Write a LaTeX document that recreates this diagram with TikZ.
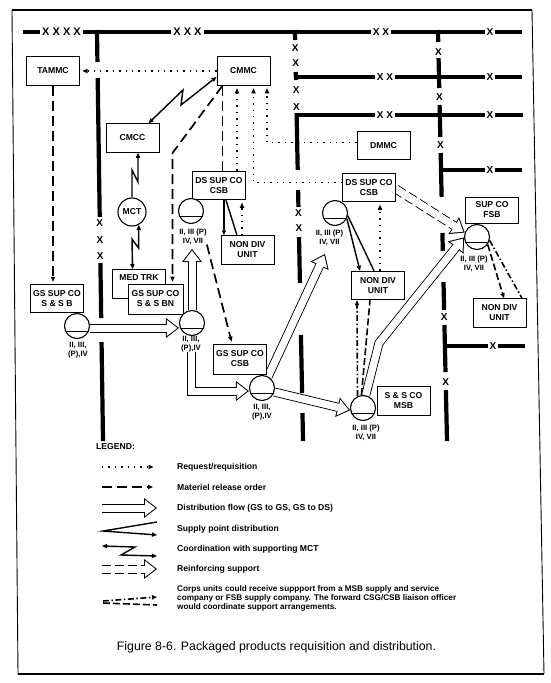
\documentclass[tikz,border=0pt]{standalone}
\usepackage{fontspec}
\setmainfont{Liberation Sans}
\usetikzlibrary{arrows.meta,backgrounds}

\begin{document}
\begin{tikzpicture}
  [x=1pt, y=-1pt,
   font=\fontsize{8.6}{10}\selectfont\bfseries,
   >={Triangle[length=5pt,width=4.5pt,line width=0pt]},
   box/.style={draw, line width=1pt, fill=white, minimum width=53pt,
     minimum height=28.5pt, inner sep=1pt, align=center},
   depot/.style={circle, draw, line width=1.1pt, fill=white, minimum size=25pt,
     inner sep=0pt, path picture={\draw[line width=.9pt]
       ([yshift=-5pt]path picture bounding box.west) --
       ([yshift=-5pt]path picture bounding box.east);}},
   classes/.style={font=\fontsize{7.7}{9}\selectfont\bfseries, align=center, inner sep=0pt},
   legtext/.style={anchor=west, inner sep=0pt},
   bline/.style={line width=4.2pt},
   xmark/.style={font=\fontsize{10}{11}\selectfont\bfseries, fill=white, inner sep=2pt},
   xbig/.style={xmark, font=\fontsize{11}{12}\selectfont\bfseries},
   req/.style={line width=1.4pt, dash pattern=on 1.4pt off 5pt, shorten >=2.5pt},
   mro/.style={line width=1.7pt, dash pattern=on 10pt off 5pt, shorten >=2pt},
   zig/.style={line width=1.4pt},
   corps/.style={line width=1.6pt, dash pattern=on 6pt off 2.5pt on 1.5pt off 2.5pt},
   corpsb/.style={line width=1.6pt, dash pattern=on 7pt off 3pt},
   flow/.style={line width=9pt, -{Triangle[length=13pt,width=20pt,line width=0pt]},
     postaction={draw=white, line width=7pt,
       -{Triangle[length=10.36pt,width=15.94pt,line width=0pt]}, shorten >=1.64pt},
     postaction={draw=white, line width=7pt, -, shorten >=8pt}},
   reinf/.style={flow, dash pattern=on 9pt off 4pt}]
  \useasboundingbox (0,0) rectangle (550,683);
  \draw[line width=1.8pt] (12,10) -- (532,10) (18,674) -- (544,674);
  \draw[line width=.9pt] (12,10) -- (18,674) (532,10) -- (544,674);

  \draw[bline] (23,32) -- (522,32);
  \draw[bline] (294,77) -- (522,77);
  \draw[bline] (294.5,115) -- (523,115);
  \draw[bline] (440,170) -- (522,170);
  \draw[bline] (444,346) -- (525,346);
  \foreach \a/\b in {30/62, 78/217, 263/318, 342/441}
    \draw[bline] ({97+.0147*(\a-32)},\a) -- ({97+.0147*(\b-32)},\b);
  \foreach \a/\b in {30/40, 72/80, 113/170, 190/207, 237/283, 335/393, 413/441}
    \draw[bline] ({295+.0196*(\a-32)},\a) -- ({295+.0196*(\b-32)},\b);
  \foreach \a/\b in {30/42, 58/88, 105/137, 153/197, 233/251, 282/310, 325/372, 390/441}
    \draw[bline] ({438+.022*(\a-32)},\a) -- ({438+.022*(\b-32)},\b);

  \node[xbig] (x4) at (61.5,32) {X X X X};
  \node[xbig] (x3) at (187.5,32) {X X X};
  \node[xmark] (x2a) at (381,32) {X X};
  \node[xmark] (x1a) at (490,32) {X};
  \node[xmark] (x2b) at (385,77) {X X};
  \node[xmark] (x1b) at (490,77) {X};
  \node[xmark] (x2c) at (385,115) {X X};
  \node[xmark] (x1c) at (490,115) {X};
  \node[xmark] (x1d) at (490,170) {X};
  \node[xmark] (x1e) at (493,346) {X};
  \foreach \y [count=\i] in {223,240,256}
    \node[xmark] (xc\i) at ({97+.0147*(\y-32)},\y) {X};
  \foreach \y [count=\i] in {48,63,90,107,213,228}
    \node[xmark] (xd\i) at ({295+.0196*(\y-32)},\y) {X};
  \foreach \y [count=\i] in {52,97,145,317,382}
    \node[xmark] (xb\i) at ({438+.022*(\y-32)},\y) {X};

  \node[box] (tammc) at (53,71) {TAMMC};
  \node[box] (cmmc) at (243.5,71) {CMMC};
  \node[box] (cmcc) at (132.5,138) {CMCC};
  \node[box] (dmmc) at (383.5,145.5) {DMMC};
  \node[box] (dscsbL) at (219,185.5) {DS SUP CO\\CSB};
  \node[box] (dscsbR) at (369,187.5) {DS SUP CO\\CSB};
  \node[box] (nondivL) at (247.5,250) {NON DIV\\UNIT};
  \node[box] (nondivM) at (378,285.5) {NON DIV\\UNIT};
  \node[box] (nondivR) at (499.5,313) {NON DIV\\UNIT};
  \node[box, minimum height=26pt] (supfsb) at (492,210) {SUP CO\\FSB};
  \node[box, anchor=north west, text height=7pt, text depth=13pt, inner ysep=4pt]
    (medtrk) at (112,269) {MED TRK};
  \node[box, minimum width=55pt, minimum height=30pt] (gsbn) at (155.5,299) {GS SUP CO\\S \& S BN};
  \node[box] (gssb) at (57,298.5) {GS SUP CO\\S \& S B};
  \node[box, minimum height=30pt] (gscsb) at (240,359) {GS SUP CO\\CSB};
  \node[box] (ssmsb) at (403.5,401) {S \& S CO\\MSB};

  \node[depot] (cSB) at (77,326) {};
  \node[depot] (cBN) at (192,323) {};
  \node[depot] (cDSL) at (191,211) {};
  \node[depot] (cCSB) at (262,388) {};
  \node[depot] (cDSR) at (335,213) {};
  \node[depot] (cMSB) at (363,408) {};
  \node[depot] (cFSB) at (477,237) {};
  \node[circle, draw, line width=1.1pt, fill=white, minimum size=28pt, inner sep=0pt]
    (mct) at (132,212) {MCT};

  \node[classes] (lSB) at (78,350) {II, III,\\(P),IV};
  \node[classes] (lBN) at (191,344) {II, III,\\(P),IV};
  \node[classes] (lDSL) at (193,236.5) {II, III (P)\\IV, VII};
  \node[classes] (lCSB) at (262,412) {II, III,\\(P),IV};
  \node[classes] (lDSR) at (329.5,237.5) {II, III (P)\\IV, VII};
  \node[classes] (lMSB) at (366,433) {II, III (P)\\IV, VII};
  \node[classes] (lFSB) at (474,263.5) {II, III (P)\\IV, VII};

  \coordinate (bendCM) at (172.5,153);
  \coordinate (zigA) at (183,90);
  \coordinate (zigB) at (181,105);
  \coordinate (zigC) at (132,170);
  \coordinate (zigD) at (138,182);
  \coordinate (zigE) at (138.6,248);
  \coordinate (zigF) at (132,239);
  \coordinate (tipDSL) at (192,249);
  \coordinate (tipDSR) at (325,254);
  \coordinate (bendMSB) at (379,343);

  \draw[req,->] (cmmc.west) -- (tammc.east);
  \draw[req,->] ([xshift=18pt]dscsbL.north) -- ([xshift=18pt]dscsbL.north |- cmmc.south);
  \draw[req,->] ([yshift=5pt]dscsbR.west) -| ([xshift=10pt]cmmc.south);
  \draw[req,->] ([yshift=3pt]dmmc.west) -| ([xshift=23.5pt]cmmc.south);
  \draw[req,->] ([xshift=2pt]nondivM.north) -- ([xshift=2pt]nondivM.north |- dscsbR.south);
  \draw[req,->] ([xshift=-5.5pt]nondivL.north) -- ([xshift=-5.5pt]nondivL.north |- dscsbL.south);

  \draw[mro,->] (tammc.south) -- (tammc.south |- gssb.north);
  \draw[mro,->] ([xshift=-21pt]cmmc.south) -- (bendCM) -- ([xshift=17pt]gsbn.north);
  \draw[mro, shorten >=0pt] ([xshift=-21pt]cmmc.south) -- ([xshift=-21pt]cmmc.south |- dscsbL.north);
  \draw[mro,->] (lDSL.south east) -- ([xshift=-8pt]gscsb.north);

  \draw[zig,<->] ([xshift=-11pt]cmcc.north east) -- (zigA) -- (zigB) -- ([yshift=-6pt]cmmc.west);
  \draw[zig,->] (mct.north) -- (zigC) -- (zigD) -- ([xshift=5.5pt]cmcc.south);
  \draw[zig,<->] (mct.-62) -- (zigE) -- (zigF) -- ([xshift=-6.5pt]medtrk.north);

  \draw[zig,->] ([xshift=5pt]dscsbL.south) -- ([xshift=5pt]dscsbL.south |- nondivL.north);
  \draw[zig] ([xshift=7pt]dscsbL.south) -- ([xshift=-10.5pt]nondivL.north);
  \draw[zig,->] (cDSR.-25) -- ([xshift=-18pt]nondivM.north);
  \draw[zig] (cDSR.-12) -- ([xshift=-4pt]nondivM.north);

  \draw[corps,->] (cMSB.115) -- ([xshift=-21pt]nondivM.south);
  \draw[corpsb] (cMSB.97) -- ([xshift=-8pt]nondivM.south);
  \draw[corpsb,->] (cFSB.-35) -- ([xshift=4.5pt]nondivR.north);
  \draw[corps] (cFSB.-15) -- ([xshift=22.5pt]nondivR.north);

  \begin{scope}[on background layer]
    \draw[flow] ([yshift=-2pt]cSB.east) -- ([yshift=-5pt]cBN.west);
    \draw[flow] (cBN.north) -- (tipDSL);
    \draw[flow] (lBN.south) |- ([yshift=-3pt]cCSB.west);
    \draw[flow] (cCSB.62) -- (tipDSR);
    \draw[flow] (cCSB.-18) -- (cMSB.190);
    \draw[flow] (cMSB.78) -- (bendMSB) -- (cFSB.182);
    \draw[reinf] ([yshift=-1.5pt]dscsbR.east) -- (cFSB.160);
  \end{scope}

  \node[legtext] (legend) at (96,447) {LEGEND:};
  \node[legtext] (t1) at (177,467) {Request/requisition};
  \node[legtext] (t2) at (177,487) {Materiel release order};
  \node[legtext] (t3) at (177,508) {Distribution flow (GS to GS, GS to DS)};
  \node[legtext] (t4) at (177,529) {Supply point distribution};
  \node[legtext] (t5) at (177,549) {Coordination with supporting MCT};
  \node[legtext] (t6) at (177,569) {Reinforcing support};
  \node[legtext, anchor=north west, align=left, font=\fontsize{8.2}{9.2}\selectfont\bfseries]
    (t7) at (177,585) {Corps units could receive suppport from a MSB supply and service\\
      company or FSB supply company. The forward CSG/CSB liaison officer\\
      would coordinate support arrangements.};
  \node[font=\fontsize{12.3}{14}\selectfont] (caption) at (276.5,647)
    {Figure 8-6. Packaged products requisition and distribution.};

  \draw[req,->] ([xshift=-75pt]t1.west) -- ([xshift=-21pt]t1.west);
  \draw[mro,->] ([xshift=-75pt]t2.west) -- ([xshift=-22pt]t2.west);
  \draw[flow] ([xshift=-75pt]t3.west) -- ([xshift=-20pt]t3.west);
  \draw[zig,->] ([xshift=-20pt,yshift=7pt]t4.west) -- ([xshift=-74pt,yshift=-2pt]t4.west)
    -- ([xshift=-20pt,yshift=-6pt]t4.west);
  \draw[zig,<->] ([xshift=-75pt,yshift=3pt]t5.west) -- ([xshift=-42pt,yshift=2pt]t5.west)
    -- ([xshift=-56pt,yshift=-6pt]t5.west) -- ([xshift=-20pt,yshift=-7pt]t5.west);
  \draw[reinf] ([xshift=-75pt]t6.west) -- ([xshift=-20pt]t6.west);
  \draw[corps,->] ([xshift=-74pt,yshift=-16pt]t7.north west) -- ([xshift=-20pt,yshift=-12pt]t7.north west);
  \draw[corpsb] ([xshift=-74pt,yshift=-18pt]t7.north west) -- ([xshift=-20pt,yshift=-20pt]t7.north west);
\end{tikzpicture}
\end{document}
